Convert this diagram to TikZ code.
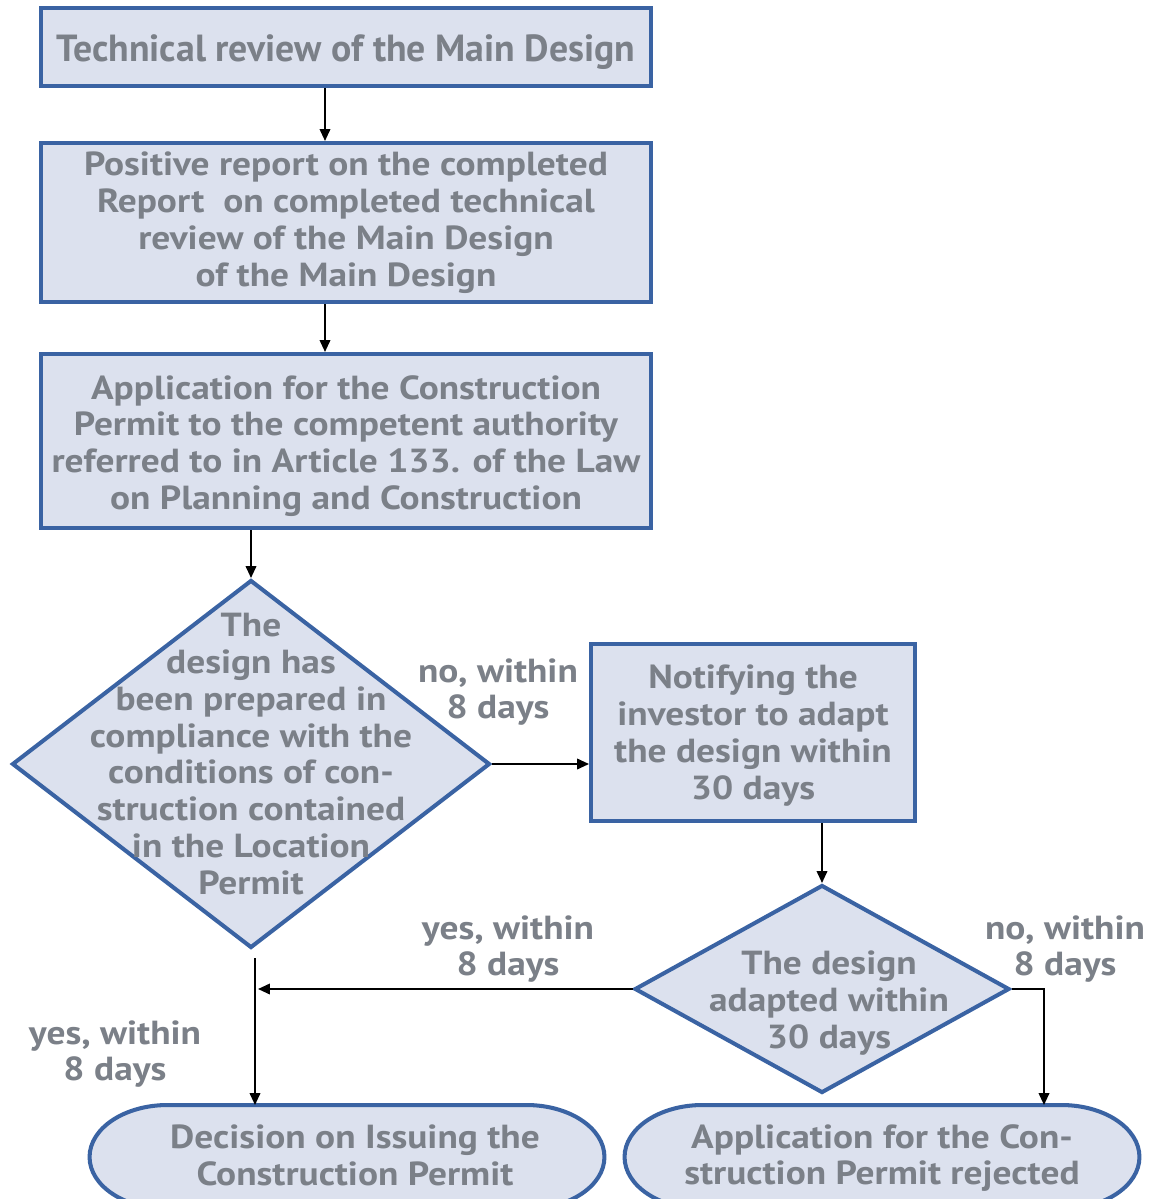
\documentclass[tikz,border=0pt]{standalone}
\usepackage{fontspec}
\setmainfont{PT Sans}[FakeStretch=1.12]
\newfontfamily\titlefont{PT Sans}
\usetikzlibrary{shapes.geometric,arrows.meta,calc}
\definecolor{boxblue}{HTML}{3A63A3}
\definecolor{boxfill}{HTML}{DCE1EE}
\definecolor{txtgray}{HTML}{7B8088}
\tikzset{every path/.style={line width=1.1pt}}
\tikzset{
  stepbox/.style={draw=boxblue,fill=boxfill,line width=2.3pt,inner sep=0pt},
  decision/.style={draw=boxblue,fill=boxfill,line width=2.3pt,shape=diamond,inner sep=0pt},
  endbox/.style={inner sep=0pt,outer sep=0pt,minimum width=10.3cm,minimum height=2.08cm},
  endline/.style={draw=boxblue,fill=boxfill,line width=2.3pt},
  txt/.style={text=txtgray,font=\fontsize{19pt}{21pt}\selectfont\bfseries,align=center},
  lbl/.style={text=txtgray,font=\fontsize{19pt}{21pt}\selectfont\bfseries,align=center},
  arr/.style={-{Triangle[length=6.8pt,width=6pt]}}
}
\begin{document}
\begin{tikzpicture}[x=0.02cm,y=-0.02cm]
\useasboundingbox (0,0) rectangle (1161,1199);

\node[stepbox,minimum width=12.2cm,minimum height=1.56cm] (b1) at (346,47) {};
\node[txt,font=\titlefont\fontsize{21.5pt}{24pt}\selectfont\bfseries] at ($(b1)+(0,5)$) {Technical review of the Main Design};
\node[stepbox,minimum width=12.2cm,minimum height=3.18cm] (b2) at (346,222.5) {};
\node[txt] at (b2) {Positive report on the completed\\Report\ \ on completed technical\\review of the Main Design\\of the Main Design};
\node[stepbox,minimum width=12.2cm,minimum height=3.48cm] (b3) at (346,441) {};
\node[txt] at ($(b3)+(0,5)$) {Application for the Construction\\Permit to the competent authority\\referred to in Article 133. of the Law\\on Planning and Construction};

\node[decision,minimum width=9.56cm,minimum height=7.36cm] (d1) at (251,764) {};
\node[txt] at ($(d1)+(0,-10)$) {The\\design has\\been prepared in\\compliance with the\\conditions of con-\\struction contained\\in the Location\\Permit};
\node[stepbox,minimum width=6.48cm,minimum height=3.54cm] (b4) at (753,732.5) {};
\node[txt] at ($(b4)+(0,3)$) {Notifying the\\investor to adapt\\the design within\\30 days};
\node[decision,minimum width=7.5cm,minimum height=4.16cm] (d2) at (822,989) {};
\node[txt] at ($(d2)+(7,14)$) {The design\\adapted within\\30 days};

\node[endbox] (e1) at (347,1157) {};
\node[endbox] (e2) at (882,1157) {};
\foreach \e in {e1,e2}
  \draw[endline] ($(\e.north west)+(1.56cm,0)$) -- ($(\e.north east)+(-1.56cm,0)$)
    arc[start angle=90,end angle=-90,x radius=1.56cm,y radius=1.04cm]
    -- ($(\e.south west)+(1.56cm,0)$)
    arc[start angle=270,end angle=90,x radius=1.56cm,y radius=1.04cm] -- cycle;
\node[txt] at ($(e1)+(8,-2)$) {Decision on Issuing the\\Construction Permit};
\node[txt] at ($(e2)+(0,1)$) {Application for the Con-\\struction Permit rejected};

\coordinate (yes) at (255,958);
\coordinate (rej) at (1044,989);

\node[lbl] (l1) at (498,692) {no, within\\8 days};
\node[lbl] (l2) at (508,949) {yes, within\\8 days};
\node[lbl] (l3) at (1065,949) {no, within\\8 days};
\node[lbl] (l4) at (115,1054) {yes, within\\8 days};

\draw[arr] ($(b1.south)+(-21,0)$) -- ($(b2.north)+(-21,0)$);
\draw[arr] ($(b2.south)+(-21,0)$) -- ($(b3.north)+(-21,0)$);
\draw[arr] (b3.south -| d1.north) -- (d1.north);
\draw[arr] (d1.east) -- (d1.east -| b4.west);
\draw[arr] (b4.south -| d2.north) -- (d2.north);
\draw[arr] (d2.west) -- ($(d2.west -| yes)+(3,0)$);
\draw[arr] (yes) -- (yes |- e1.north);
\draw[arr] (d2.east) -- (rej) -- (rej |- e2.north);
\end{tikzpicture}
\end{document}
